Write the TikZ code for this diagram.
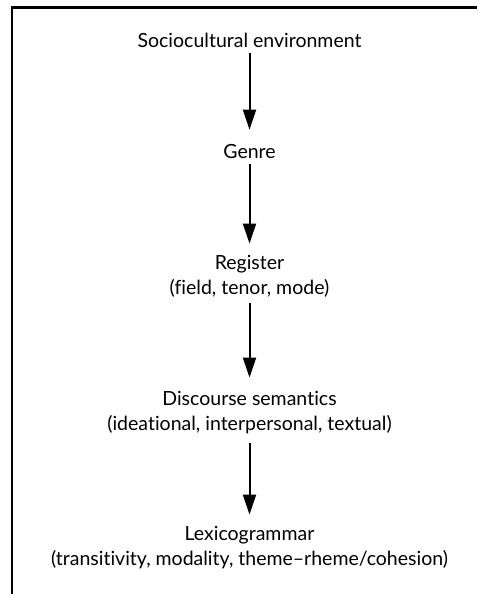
\documentclass[tikz,border=0pt]{standalone}
\usepackage{fontspec}
\setmainfont{Lato}[Ligatures=CommonOff]
\usetikzlibrary{arrows.meta}
\begin{document}
\begin{tikzpicture}[x=1pt,y=-1pt,
  level/.style={align=center,anchor=base,font=\fontsize{19.5}{25}\selectfont,inner sep=0pt},
  flow/.style={line width=2pt,-{Triangle[length=20pt,width=13pt]}}]
\useasboundingbox (0,0) rectangle (477,594);
% open frame: top and left edges only
\draw[line width=2.6pt] (477,7.5) -- (12,7.5) -- (12,594);
% base anchor of a two-line node sits on its last line
\node[level] (soc) at (249.5,48) {Sociocultural environment};
\node[level] (gen) at (249.5,158) {Genre};
\node[level] (reg) at (249.5,294) {Register\\(field, tenor, mode)};
\node[level] (dis) at (249.5,430) {Discourse semantics\\(ideational, interpersonal, textual)};
\node[level] (lex) at (249.5,565) {Lexicogrammar\\(transitivity, modality, theme--rheme/cohesion)};
\draw[flow,shorten <=5pt,shorten >=14pt] (soc) -- (gen);
\draw[flow,shorten <=6pt,shorten >=11pt] (gen) -- (reg);
\draw[flow,shorten <=6pt,shorten >=13pt] (reg) -- (dis);
\draw[flow,shorten <=9pt,shorten >=11pt] (dis) -- (lex);
\end{tikzpicture}
\end{document}
